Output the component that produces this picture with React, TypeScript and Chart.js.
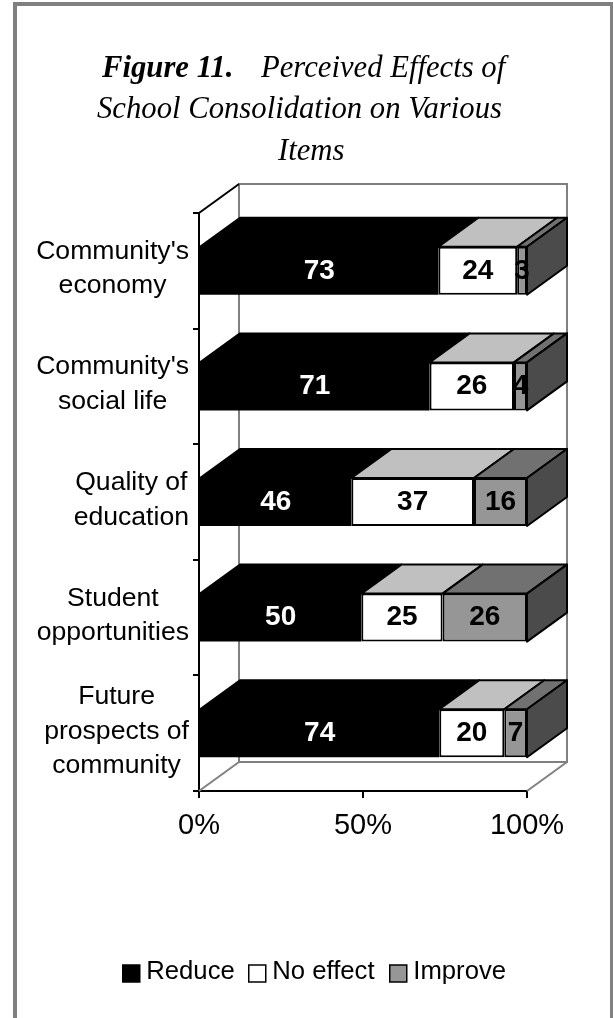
import React, { useEffect, useRef } from "react";
import { Chart, registerables } from "chart.js";

Chart.register(...registerables);

const categories = [
  ["Community's", "economy"],
  ["Community's", "social life"],
  ["Quality of", "education"],
  ["Student", "opportunities"],
  ["Future", "prospects of", "community"],
];
const seriesNames = ["Reduce", "No effect", "Improve"];
const reduce = [73, 71, 46, 50, 74];
const noEffect = [24, 26, 37, 25, 20];
const improve = [3, 4, 16, 26, 7];
const xTicks = [0, 50, 100];
const frontColors = ["#000000", "#ffffff", "#969696"];
const topColors = ["#000000", "#c0c0c0", "#717171"];
const sideColor = "#4b4b4b";
const wallColor = "#808080";
const DX = 40;
const DY = -29;
const SANS = '"Liberation Sans", Arial, sans-serif';
const SERIF = '"Liberation Serif", "Times New Roman", serif';

const series = [reduce, noEffect, improve];
const totals = reduce.map((_, i) => reduce[i] + noEffect[i] + improve[i]);

const depthPlugin = {
  id: "depth",
  beforeDatasetsDraw(chart: any) {
    const { ctx, scales } = chart;
    const xs = scales.x;
    const ys = scales.y;
    const l = xs.getPixelForValue(0);
    const r = xs.getPixelForValue(100);
    const t = ys.top;
    const b = ys.bottom;
    ctx.save();
    ctx.lineWidth = 2;
    ctx.strokeStyle = wallColor;
    ctx.beginPath();
    ctx.moveTo(l + DX, b + DY);
    ctx.lineTo(l + DX, t + DY);
    ctx.lineTo(r + DX, t + DY);
    ctx.lineTo(r + DX, b + DY);
    ctx.lineTo(l + DX, b + DY);
    ctx.moveTo(l, b);
    ctx.lineTo(l + DX, b + DY);
    ctx.moveTo(r, b);
    ctx.lineTo(r + DX, b + DY);
    ctx.stroke();
    ctx.strokeStyle = "#000";
    ctx.beginPath();
    ctx.moveTo(l, t);
    ctx.lineTo(l + DX, t + DY);
    ctx.stroke();

    ctx.strokeStyle = "#000";
    ctx.lineWidth = 2;
    ctx.lineJoin = "round";
    series.forEach((_, s) => {
      const meta = chart.getDatasetMeta(s);
      meta.data.forEach((bar: any) => {
        const p = bar.getProps(["x", "y", "base", "height"]);
        const top = p.y - p.height / 2;
        ctx.fillStyle = topColors[s];
        ctx.beginPath();
        ctx.moveTo(p.base, top);
        ctx.lineTo(p.base + DX, top + DY);
        ctx.lineTo(p.x + DX, top + DY);
        ctx.lineTo(p.x, top);
        ctx.closePath();
        ctx.fill();
        ctx.stroke();
        if (s === series.length - 1) {
          ctx.fillStyle = sideColor;
          ctx.beginPath();
          ctx.moveTo(p.x, top);
          ctx.lineTo(p.x + DX, top + DY);
          ctx.lineTo(p.x + DX, top + DY + p.height);
          ctx.lineTo(p.x, top + p.height);
          ctx.closePath();
          ctx.fill();
          ctx.stroke();
        }
      });
    });
    ctx.restore();
  },
  afterDatasetsDraw(chart: any) {
    const { ctx } = chart;
    ctx.save();
    ctx.font = `bold 28px ${SANS}`;
    ctx.textAlign = "center";
    ctx.textBaseline = "middle";
    series.forEach((vals, s) => {
      const meta = chart.getDatasetMeta(s);
      meta.data.forEach((bar: any, i: number) => {
        const p = bar.getProps(["x", "y", "base"]);
        ctx.fillStyle = s === 0 ? "#fff" : "#000";
        ctx.fillText(String(vals[i]), (p.x + p.base) / 2, p.y);
      });
    });
    ctx.restore();
  },
  afterDraw(chart: any) {
    const { ctx, scales } = chart;
    ctx.save();
    // category labels: each block right-aligned to the axis, lines centred inside it
    ctx.fillStyle = "#000";
    ctx.font = `26.6px ${SANS}`;
    ctx.textBaseline = "middle";
    ctx.textAlign = "center";
    const lineH = 34.5;
    categories.forEach((lines, i) => {
      const w = Math.max(...lines.map((t) => ctx.measureText(t).width));
      const cx = 189 - w / 2;
      const cy = scales.y.getPixelForTick(i) - 2;
      lines.forEach((t, k) => {
        ctx.fillText(t, cx, cy + (k - (lines.length - 1) / 2) * lineH);
      });
    });
    // title
    ctx.textBaseline = "alphabetic";
    ctx.textAlign = "left";
    ctx.font = `italic bold 30.7px ${SERIF}`;
    ctx.fillText("Figure 11.", 102, 76.5);
    ctx.font = `italic 30.7px ${SERIF}`;
    ctx.fillText("Perceived Effects of", 261, 76.5);
    ctx.fillText("School Consolidation on Various", 97, 118);
    ctx.fillText("Items", 278, 160);
    // legend
    ctx.textBaseline = "middle";
    ctx.font = `25.7px ${SANS}`;
    const legendX = [122.75, 248.75, 389.75];
    seriesNames.forEach((name, s) => {
      ctx.fillStyle = frontColors[s];
      ctx.strokeStyle = "#000";
      ctx.lineWidth = 1.5;
      ctx.fillRect(legendX[s], 965, 17, 17);
      ctx.strokeRect(legendX[s], 965, 17, 17);
      ctx.fillStyle = "#000";
      ctx.fillText(name, legendX[s] + 23.5, 972);
    });
    ctx.restore();
  },
};

export default function App() {
  const ref = useRef<HTMLCanvasElement>(null);
  useEffect(() => {
    const chart = new Chart(ref.current!, {
      type: "bar",
      data: {
        labels: categories.map((c) => c.join(" ")),
        datasets: seriesNames.map((name, s) => ({
          label: name,
          data: series[s].map((v, i) => (v / totals[i]) * 100),
          backgroundColor: frontColors[s],
          borderColor: "#000",
          borderWidth: s === 0 ? 0 : 2,
          borderSkipped: false,
          barPercentage: 0.415,
          categoryPercentage: 1,
        })),
      },
      options: {
        indexAxis: "y",
        animation: false,
        responsive: false,
        layout: { padding: { left: 193, right: 86, top: 213, bottom: 175 } },
        plugins: { legend: { display: false }, title: { display: false }, tooltip: { enabled: false } },
        scales: {
          x: {
            stacked: true,
            min: 0,
            max: 100,
            afterBuildTicks: (s: any) => {
              s.ticks = xTicks.map((value) => ({ value }));
            },
            afterFit: (s: any) => {
              s.height = 52;
            },
            ticks: {
              color: "#000",
              font: { family: SANS, size: 29 },
              padding: 11,
              maxRotation: 0,
              autoSkip: false,
              callback: (v: any) => `${v}%`,
            },
            grid: { drawOnChartArea: false, drawTicks: true, tickLength: 7, color: "#000", lineWidth: 2 },
            border: { color: "#000", width: 2 },
          },
          y: {
            stacked: true,
            afterFit: (s: any) => {
              s.width = 6;
            },
            ticks: { display: false },
            grid: { drawOnChartArea: false, drawTicks: true, tickLength: 6, color: "#000", lineWidth: 2, offset: true },
            border: { color: "#000", width: 2 },
          },
        },
      },
      plugins: [depthPlugin],
    } as any);
    return () => chart.destroy();
  }, []);
  return (
    <div style={{ position: "absolute", left: 0, top: 0, width: 613, height: 1018, overflow: "hidden", background: "#fff" }}>
      <div
        style={{
          position: "absolute",
          left: 13,
          top: 2,
          width: 593,
          height: 1100,
          border: "4px solid #808080",
          boxSizing: "content-box",
        }}
      />
      <canvas ref={ref} width={613} height={1018} style={{ position: "absolute", left: 0, top: 0, display: "block" }} />
    </div>
  );
}
